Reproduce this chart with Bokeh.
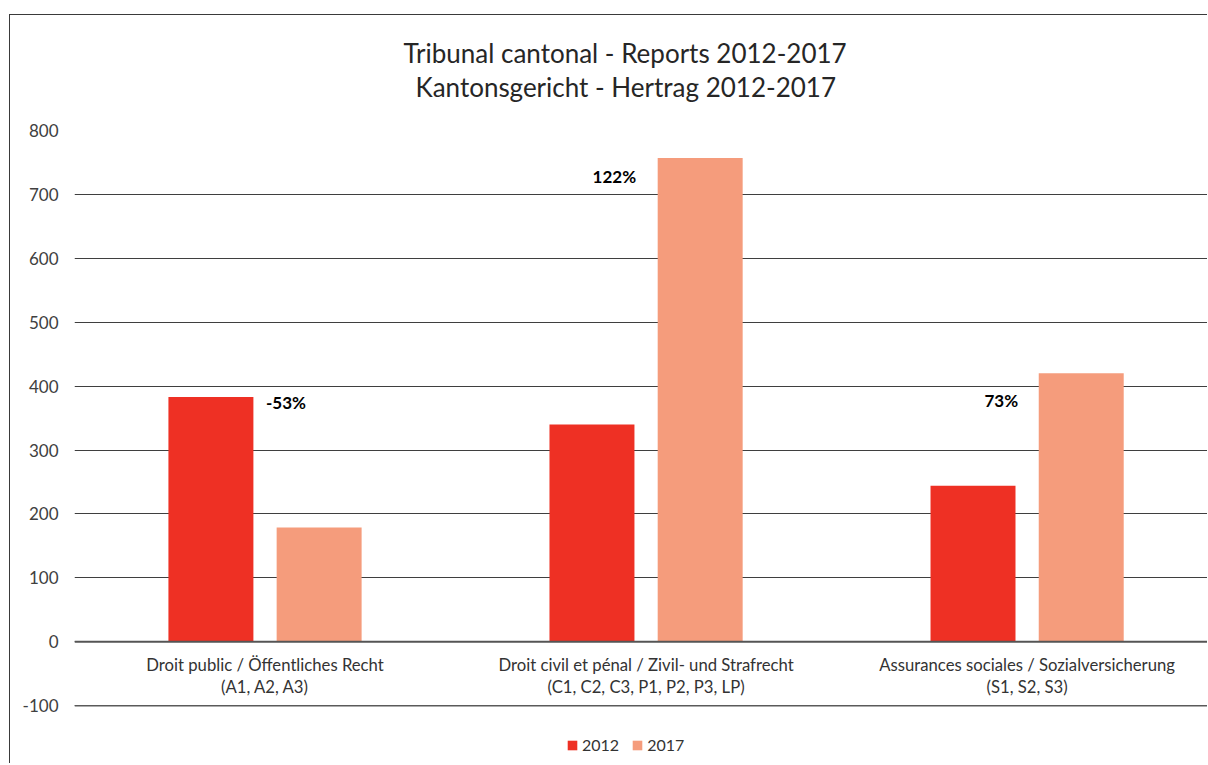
import numpy as np
from bokeh.plotting import figure
from bokeh.models import (ColumnDataSource, Range1d, Title, Span, Legend, LegendItem,
                          FixedTicker)
from bokeh.core.properties import value
from bokeh.embed import file_html
from bokeh.resources import INLINE

# ---- data ----
categories = ["Droit public / Öffentliches Recht",
              "Droit civil et pénal / Zivil- und Strafrecht",
              "Assurances sociales / Sozialversicherung"]
cat_codes = ["(A1, A2, A3)", "(C1, C2, C3, P1, P2, P3, LP)", "(S1, S2, S3)"]
series_names = ["2012", "2017"]
values_2012 = [383, 340, 244]
values_2017 = [179, 757, 420]
changes = ["-53%", "122%", "73%"]
y_ticks = [-100, 0, 100, 200, 300, 400, 500, 600, 700, 800]
title_lines = ["Tribunal cantonal - Reports 2012-2017", "Kantonsgericht - Hertrag 2012-2017"]

FONT = "Lato"
C2012 = "#EE3024"
C2017 = "#F59C7C"

centers = np.arange(len(categories)) + 0.5
src = ColumnDataSource(dict(
    c=centers, x12=centers - 0.142, x17=centers + 0.142,
    v12=values_2012, v17=values_2017,
    top=np.maximum(values_2012, values_2017),
    cat=categories, codes=cat_codes, chg=changes,
    xo=[1, -10, -9], yo=[5, 19, 27], al=["left", "right", "right"],
))

p = figure(width=1198, height=749, output_backend="svg", toolbar_location=None,
           x_range=Range1d(0, 2.976), y_range=Range1d(-192, 800),
           min_border_left=64, min_border_right=0, min_border_top=115, min_border_bottom=0)
p.styles = {"margin-top": "14px", "margin-left": "9px",
            "border-left": "1px solid #3a3a3a", "border-top": "1px solid #3a3a3a"}
p.outline_line_color = None
p.background_fill_color = "white"

# titles (later-added goes further from the plot)
p.add_layout(Title(text=title_lines[1], align="left", text_font=FONT, text_font_size="26px",
                   text_font_style="normal", text_color="#262626", offset=341, standoff=56), "above")
p.add_layout(Title(text=title_lines[0], align="left", text_font=FONT, text_font_size="26px",
                   text_font_style="normal", text_color="#262626", offset=329, standoff=-56), "above")

# axes
p.xaxis.visible = False
p.xgrid.visible = False
p.yaxis.ticker = FixedTicker(ticks=y_ticks)
p.yaxis.major_label_overrides = {t: str(t) for t in y_ticks}
p.yaxis.axis_line_color = None
p.yaxis.major_tick_line_color = None
p.yaxis.minor_tick_line_color = None
p.yaxis.major_label_standoff = 10
p.yaxis.major_label_text_font = FONT
p.yaxis.major_label_text_font_size = "17px"
p.yaxis.major_label_text_color = "#404040"
p.ygrid.ticker = FixedTicker(ticks=y_ticks)
p.ygrid.grid_line_color = "#3f3f3f"
p.ygrid.grid_line_width = 1

r12 = p.vbar(x="x12", top="v12", width=0.223, source=src, fill_color=C2012, line_color=None)
r17 = p.vbar(x="x17", top="v17", width=0.223, source=src, fill_color=C2017, line_color=None)

p.add_layout(Span(location=0, dimension="width", line_color="#555555", line_width=2))
p.add_layout(Span(location=-100, dimension="width", line_color="#5a5a5a", line_width=1.5))

# category labels inside plot, below zero line
p.text(x="c", y=0, text="cat", source=src, text_font=value(FONT), text_font_size="16.7px",
       text_color="#333333", text_align="center", text_baseline="middle", y_offset=23)
p.text(x="c", y=0, text="codes", source=src, text_font=value(FONT), text_font_size="16.7px",
       text_color="#333333", text_align="center", text_baseline="middle", y_offset=45)

# change labels
p.text(x="c", y="top", text="chg", source=src, text_font=value(FONT), text_font_size="17px",
       text_font_style="bold", text_color="#000000", text_align="al", text_baseline="middle",
       x_offset="xo", y_offset="yo")

legend = Legend(items=[LegendItem(label=series_names[0], renderers=[r12]),
                       LegendItem(label=series_names[1], renderers=[r17])],
                orientation="horizontal", location=(492, 10),
                label_text_font=FONT, label_text_font_size="16px", label_text_color="#333333",
                glyph_width=12, glyph_height=12, spacing=12, label_standoff=4,
                border_line_color=None, background_fill_alpha=0, padding=4, margin=0)
p.add_layout(legend, "center")

open("out.html", "w").write(file_html(p, INLINE))
